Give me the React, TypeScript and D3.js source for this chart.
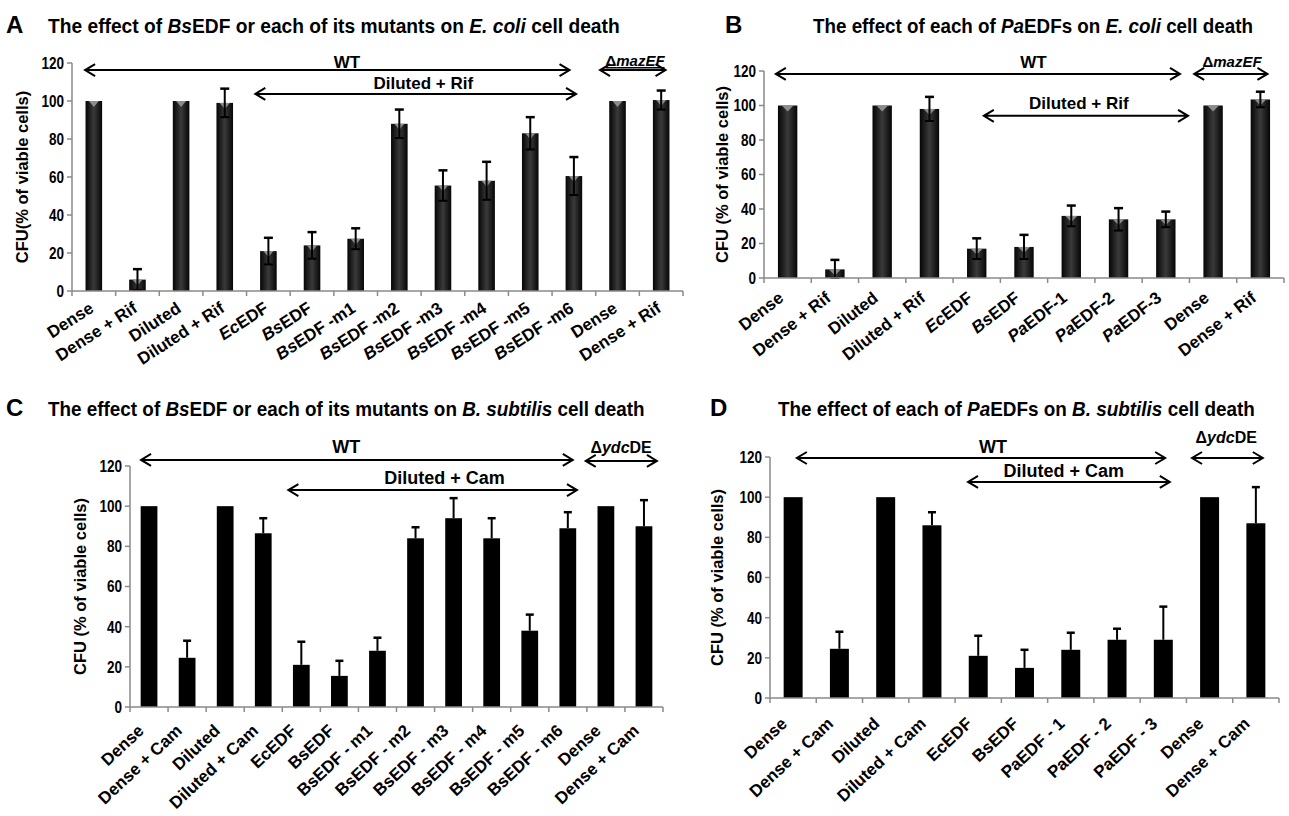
import React, { useLayoutEffect, useRef } from 'react';
import * as d3 from 'd3';

// ---- data ----
const catsA = ['Dense', 'Dense + Rif', 'Diluted', 'Diluted + Rif', '*Ec*EDF', '*Bs*EDF', '*Bs*EDF -m1', '*Bs*EDF -m2', '*Bs*EDF -m3', '*Bs*EDF -m4', '*Bs*EDF -m5', '*Bs*EDF -m6', 'Dense', 'Dense + Rif'];
const valsA = [100, 6, 100, 99, 21, 24, 27.5, 88, 55.5, 58, 83, 60.5, 100, 100.5];
const errsA = [0, 5.5, 0, 7.5, 7, 7, 5.5, 7.5, 8, 10, 8.5, 10, 0, 5];

const catsB = ['Dense', 'Dense + Rif', 'Diluted', 'Diluted + Rif', '*Ec*EDF', '*Bs*EDF', '*Pa*EDF-1', '*Pa*EDF-2', '*Pa*EDF-3', 'Dense', 'Dense + Rif'];
const valsB = [100, 5, 100, 98, 17, 18, 36, 34, 34, 100, 103.5];
const errsB = [0, 5.5, 0, 7, 6, 7, 6, 6.5, 4.5, 0, 4.5];

const catsC = ['Dense', 'Dense + Cam', 'Diluted', 'Diluted + Cam', 'EcEDF', 'BsEDF', 'BsEDF - m1', 'BsEDF - m2', 'BsEDF - m3', 'BsEDF - m4', 'BsEDF - m5', 'BsEDF - m6', 'Dense', 'Dense + Cam'];
const valsC = [100, 24.5, 100, 86.5, 21, 15.5, 28, 84, 94, 84, 38, 89, 100, 90];
const errsC = [0, 8.5, 0, 7.5, 11.5, 7.5, 6.5, 5.5, 10, 10, 8, 8, 0, 13];

const catsD = ['Dense', 'Dense + Cam', 'Diluted', 'Diluted + Cam', 'EcEDF', 'BsEDF', 'PaEDF - 1', 'PaEDF - 2', 'PaEDF - 3', 'Dense', 'Dense + Cam'];
const valsD = [100, 24.5, 100, 86, 21, 15, 24, 29, 29, 100, 87];
const errsD = [0, 8.5, 0, 6.5, 10, 9, 8.5, 5.5, 16.5, 0, 18];

const yTicks = [0, 20, 40, 60, 80, 100, 120];

const FONT = 'Liberation Sans, Arial, Helvetica, sans-serif';

type Arrow = { from: number; to: number; y: number; label: string; lx: number; ldy: number; size: number; underline?: boolean };

type Cfg = {
  id: string;
  letter: string; lx: number; ly: number;
  title: string; tx0: number; tx1: number; ty: number;
  cats: string[]; vals: number[]; errs: number[];
  x0: number; x1: number; y0: number; y120: number; pad: number;
  excel3d: boolean;
  yTitle: string; yTitleX: number;
  angle: number; ldx: number; ldy: number; lsize: number;
  arrows: Arrow[];
};

const panels: Cfg[] = [
  {
    id: 'A', letter: 'A', lx: 6, ly: 33,
    title: 'The effect of *Bs*EDF or each of its mutants on *E. coli* cell death', tx0: 48, tx1: 620, ty: 33,
    cats: catsA, vals: valsA, errs: errsA,
    x0: 72, x1: 683, y0: 291, y120: 63, pad: 0.62, excel3d: true,
    yTitle: 'CFU(%  of viable cells)', yTitleX: 22,
    angle: -33, ldx: 1, ldy: 20, lsize: 17,
    arrows: [
      { from: 0.3, to: 11.4, y: 116.3, label: 'WT', lx: 6.3, ldy: 2, size: 17 },
      { from: 12.1, to: 13.6, y: 116.3, label: '\u0394*mazEF*', lx: 12.9, ldy: 4, size: 15, underline: true },
      { from: 4.2, to: 11.55, y: 103.7, label: 'Diluted + Rif', lx: 8.05, ldy: 5, size: 17 },
    ],
  },
  {
    id: 'B', letter: 'B', lx: 725, ly: 33,
    title: 'The effect of each of *Pa*EDFs on *E. coli* cell death', tx0: 813, tx1: 1253, ty: 33,
    cats: catsB, vals: valsB, errs: errsB,
    x0: 764, x1: 1284, y0: 278, y120: 71, pad: 0.59, excel3d: true,
    yTitle: 'CFU (% of viable cells)', yTitleX: 722,
    angle: -38, ldx: -3, ldy: 22, lsize: 17,
    arrows: [
      { from: 0.25, to: 8.8, y: 118.3, label: 'WT', lx: 5.7, ldy: 6, size: 17 },
      { from: 9.1, to: 10.65, y: 118.3, label: '\u0394*mazEF*', lx: 9.9, ldy: 7, size: 15 },
      { from: 4.65, to: 8.97, y: 94, label: 'Diluted + Rif', lx: 6.66, ldy: 7, size: 17 },
    ],
  },
  {
    id: 'C', letter: 'C', lx: 6, ly: 416,
    title: 'The effect of *Bs*EDF or each of its mutants on *B. subtilis* cell death', tx0: 48, tx1: 645, ty: 416,
    cats: catsC, vals: valsC, errs: errsC,
    x0: 130, x1: 663, y0: 707, y120: 466, pad: 0.56, excel3d: false,
    yTitle: 'CFU (% of viable cells)', yTitleX: 80,
    angle: -43, ldx: -4, ldy: 25, lsize: 17,
    arrows: [
      { from: 0.29, to: 11.63, y: 123, label: 'WT', lx: 5.68, ldy: 7, size: 18 },
      { from: 11.97, to: 13.84, y: 122.5, label: '\u0394*ydc*DE', lx: 12.9, ldy: 8, size: 16 },
      { from: 4.16, to: 11.74, y: 108, label: 'Diluted + Cam', lx: 8.26, ldy: 6, size: 18 },
    ],
  },
  {
    id: 'D', letter: 'D', lx: 710, ly: 416,
    title: 'The effect of each of *Pa*EDFs on *B. subtilis* cell death', tx0: 778, tx1: 1255, ty: 416,
    cats: catsD, vals: valsD, errs: errsD,
    x0: 770, x1: 1279, y0: 698, y120: 457, pad: 0.59, excel3d: false,
    yTitle: 'CFU (% of viable cells)', yTitleX: 717,
    angle: -43, ldx: -5, ldy: 27, lsize: 17,
    arrows: [
      { from: 0.58, to: 8.54, y: 119.5, label: 'WT', lx: 4.82, ldy: 5, size: 18 },
      { from: 9.12, to: 10.65, y: 119.5, label: '\u0394*ydc*DE', lx: 9.86, ldy: 15, size: 16 },
      { from: 4.28, to: 8.64, y: 107.6, label: 'Diluted + Cam', lx: 6.35, ldy: 5, size: 18 },
    ],
  },
];

// "*x*" marks italic runs
function Rich({ s }: { s: string }) {
  return (
    <>
      {s.split('*').map((t, i) =>
        t ? (
          <tspan key={i} fontStyle={i % 2 ? 'italic' : 'normal'}>
            {t}
          </tspan>
        ) : null
      )}
    </>
  );
}

// condensed title: measured, then squeezed horizontally to the wanted width
function Title({ s, x0, x1, y }: { s: string; x0: number; x1: number; y: number }) {
  const ref = useRef<SVGTextElement>(null);
  useLayoutEffect(() => {
    const el = ref.current;
    if (!el) return;
    const w = el.getComputedTextLength();
    const k = w > 0 ? (x1 - x0) / w : 1;
    d3.select(el).attr('transform', `translate(${x0},${y}) scale(${k},1)`);
  }, [s, x0, x1, y]);
  return (
    <text ref={ref} transform={`translate(${x0},${y})`} fontSize={20} fontWeight="bold" fontFamily={FONT}>
      <Rich s={s} />
    </text>
  );
}

function Panel({ p }: { p: Cfg }) {
  const n = p.cats.length;
  const x = d3
    .scaleBand<number>()
    .domain(d3.range(n))
    .range([p.x0, p.x1])
    .paddingInner(p.pad)
    .paddingOuter(p.pad / 2);
  const y = d3.scaleLinear().domain([0, 120]).range([p.y0, p.y120]);
  const step = x.step();
  const bw = x.bandwidth();
  const ux = (u: number) => p.x0 + u * step;
  const axisColor = '#8a8a8a';
  const capW = p.excel3d ? 4.5 : 4;

  return (
    <g>
      <text x={p.lx} y={p.ly} fontSize={24} fontWeight="bold" fontFamily={FONT}>
        {p.letter}
      </text>
      <Title s={p.title} x0={p.tx0} x1={p.tx1} y={p.ty} />

      {/* y axis title */}
      <text
        transform={`translate(${p.yTitleX + 6},${(p.y0 + p.y120) / 2}) rotate(-90)`}
        textAnchor="middle"
        fontSize={16.5}
        fontWeight="bold"
        fontFamily={FONT}
      >
        {p.yTitle}
      </text>

      {/* bars */}
      {p.vals.map((v, i) => {
        const bx = x(i)!;
        const top = y(v);
        return (
          <g key={i}>
            <rect
              x={bx}
              y={top}
              width={bw}
              height={p.y0 - top}
              fill={p.excel3d ? `url(#grad${p.id})` : '#000'}
            />
            {p.excel3d && (
              <path
                d={`M${bx + bw * 0.2},${top}L${bx + bw * 0.8},${top}L${bx + bw / 2},${top + 6}Z`}
                fill="#8c8c8c"
              />
            )}
          </g>
        );
      })}

      {/* error bars */}
      {p.errs.map((e, i) => {
        if (!e) return null;
        const cx = x(i)! + bw / 2;
        const hi = y(p.vals[i] + e);
        const lo = p.excel3d ? y(Math.max(0, p.vals[i] - e)) : y(p.vals[i]);
        return (
          <g key={i} stroke="#000" strokeWidth={2}>
            <line x1={cx} x2={cx} y1={hi} y2={lo} />
            <line x1={cx - capW} x2={cx + capW} y1={hi} y2={hi} strokeWidth={2.5} />
            {p.excel3d && <line x1={cx - capW} x2={cx + capW} y1={lo} y2={lo} strokeWidth={2} />}
          </g>
        );
      })}

      {/* y axis */}
      <line x1={p.x0} x2={p.x0} y1={p.y0} y2={y(120)} stroke={axisColor} strokeWidth={1.5} />
      {yTicks.map((t) => (
        <g key={t}>
          <line x1={p.x0 - 5} x2={p.x0} y1={y(t)} y2={y(t)} stroke={axisColor} strokeWidth={1.5} />
          <text
            transform={`translate(${p.x0 - 8},${y(t)}) scale(0.82,1)`}
            dy="0.36em"
            textAnchor="end"
            fontSize={16.5}
            fontWeight="bold"
            fontFamily={FONT}
          >
            {t}
          </text>
        </g>
      ))}

      {/* x axis */}
      <line x1={p.x0} x2={p.x1} y1={p.y0} y2={p.y0} stroke={axisColor} strokeWidth={1.5} />
      {d3.range(n + 1).map((k) => (
        <line key={k} x1={ux(k)} x2={ux(k)} y1={p.y0} y2={p.y0 + 5} stroke={axisColor} strokeWidth={1.5} />
      ))}
      {p.cats.map((c, i) => (
        <text
          key={i}
          transform={`translate(${x(i)! + bw / 2 + p.ldx},${p.y0 + p.ldy}) rotate(${p.angle})`}
          textAnchor="end"
          fontSize={p.lsize}
          fontWeight="bold"
          fontFamily={FONT}
        >
          <Rich s={c} />
        </text>
      ))}

      {/* group arrows */}
      {p.arrows.map((a, k) => {
        const xa = ux(a.from);
        const xb = ux(a.to);
        const ya = y(a.y);
        const h = 10;
        const v = 6;
        return (
          <g key={k}>
            <path
              d={`M${xa + h},${ya - v}L${xa},${ya}L${xa + h},${ya + v}M${xa},${ya}L${xb},${ya}M${xb - h},${ya - v}L${xb},${ya}L${xb - h},${ya + v}`}
              fill="none"
              stroke="#000"
              strokeWidth={2}
            />
            <text
              x={ux(a.lx)}
              y={ya - a.ldy}
              textAnchor="middle"
              fontSize={a.size}
              fontWeight="bold"
              fontFamily={FONT}
              textDecoration={a.underline ? 'underline' : undefined}
            >
              <Rich s={a.label} />
            </text>
          </g>
        );
      })}
    </g>
  );
}

export default function App() {
  return (
    <svg
      width={1289}
      height={816}
      style={{ position: 'absolute', left: 0, top: 0, background: '#fff' }}
    >
      <defs>
        {panels.map((p) => (
          <linearGradient key={p.id} id={`grad${p.id}`} x1="0" x2="1" y1="0" y2="0">
            <stop offset="0%" stopColor="#050505" />
            <stop offset="50%" stopColor="#3a3a3a" />
            <stop offset="100%" stopColor="#050505" />
          </linearGradient>
        ))}
      </defs>
      <rect width={1289} height={816} fill="#fff" />
      {panels.map((p) => (
        <Panel key={p.id} p={p} />
      ))}
    </svg>
  );
}
